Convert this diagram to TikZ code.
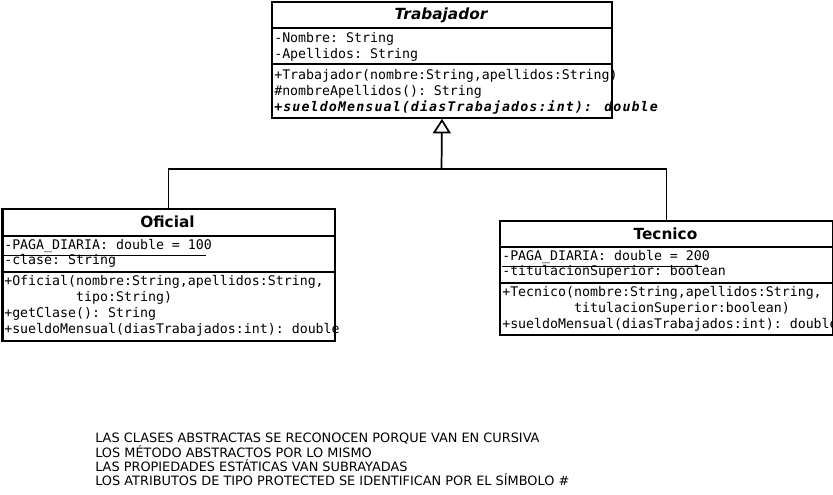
\documentclass[tikz,border=0pt]{standalone}
\usepackage{fontspec}
\setmainfont{DejaVu Sans}
\setmonofont{DejaVu Sans Mono}
\newfontfamily\monobi{DejaVu Sans Mono Bold Oblique}[LetterSpace=8.5]
\usetikzlibrary{arrows.meta}
\begin{document}
\begin{tikzpicture}[x=0.75pt,y=-0.75pt]

    \tikzset{
      classbox/.style={
        draw,
        line width=1.5pt,
        inner sep=0pt,
        anchor=north west,
      },
      sep/.style={line width=1.5pt},
      title/.style={font=\fontsize{11.5}{14}\selectfont\bfseries, anchor=base, inner sep=0pt},
      member/.style={font=\fontsize{9.95}{12}\selectfont\ttfamily, anchor=base west, inner sep=0pt},
      abstractmember/.style={member, font=\fontsize{9.95}{12}\selectfont\monobi},
      staticline/.style={line width=0.8pt},
      link/.style={line width=1.3pt},
      inherit/.style={line width=1.3pt, -{Triangle[open,length=11pt,width=13.5pt]}},
      note/.style={font=\fontsize{9.66}{11.5}\selectfont, anchor=base west, inner sep=0pt},
    }
    \useasboundingbox (0,0) rectangle (833,494);

    \node[classbox, minimum width=255pt, minimum height=87pt] (trabajador) at (271,0.7) {};
    \draw[sep] (trabajador.west |- 0,28.3) -- (trabajador.east |- 0,28.3);
    \draw[sep] (trabajador.west |- 0,64.3) -- (trabajador.east |- 0,64.3);
    \node[title] (trabajadortitle) at (441,19.5) {\itshape Trabajador};
    \node[member] (trnombre) at (274,42.3) {-Nombre: String};
    \node[member] (trapellidos) at (274,58.3) {-Apellidos: String};
    \node[member] (trconstructor) at (274,79.6) {+Trabajador(nombre:String,apellidos:String)};
    \node[member] (trnombreap) at (274,95.5) {\#nombreApellidos(): String};
    \node[abstractmember] (trsueldo) at (274,111.2) {+sueldoMensual(diasTrabajados:int): double};

    \node[classbox, minimum width=249pt, minimum height=99pt] (oficial) at (1.5,208.3) {};
    \draw[sep] (oficial.west |- 0,235.7) -- (oficial.east |- 0,235.7);
    \draw[sep] (oficial.west |- 0,271.7) -- (oficial.east |- 0,271.7);
    \node[title] (oficialtitle) at (167.5,227) {Oficial};
    \node[member] (ofpaga) at (4,249.3) {-PAGA\_DIARIA: double = 100};
    \draw[staticline] ([yshift=-4.6pt]ofpaga.base west) -- ([yshift=-4.6pt,xshift=-5pt]ofpaga.base east);
    \node[member] (ofclase) at (4,264.8) {-clase: String};
    \node[member] (ofconstructor) at (4,285.6) {+Oficial(nombre:String,apellidos:String,};
    \node[member] (oftipo) at (4,301.3) {\hphantom{+Oficial(}tipo:String)};
    \node[member] (ofgetclase) at (4,317.3) {+getClase(): String};
    \node[member] (ofsueldo) at (4,333.2) {+sueldoMensual(diasTrabajados:int): double};

    \node[classbox, minimum width=249.75pt, minimum height=85.7pt] (tecnico) at (499,220) {};
    \draw[sep] (tecnico.west |- 0,246.7) -- (tecnico.east |- 0,246.7);
    \draw[sep] (tecnico.west |- 0,283.3) -- (tecnico.east |- 0,283.3);
    \node[title] (tecnicotitle) at (665.5,239) {Tecnico};
    \node[member] (tepaga) at (502,260) {-PAGA\_DIARIA: double = 200};
    \draw[staticline] ([yshift=-4.8pt]tepaga.base west) -- ([yshift=-4.8pt,xshift=-6pt]tepaga.base east);
    \node[member] (tetitulacion) at (502,275.2) {-titulacionSuperior: boolean};
    \node[member] (teconstructor) at (502,296.7) {+Tecnico(nombre:String,apellidos:String,};
    \node[member] (tetitsup) at (502,312.5) {\hphantom{+Tecnico(}titulacionSuperior:boolean)};
    \node[member] (tesueldo) at (502,328.3) {+sueldoMensual(diasTrabajados:int): double};

    \coordinate (join) at (441.5,169.3);
    \draw[link] (oficial.north) |- (join) -| (tecnico.north);
    \draw[inherit] (join) -- (trabajador.south);

    \foreach \txt [count=\i from 0] in {
        LAS CLASES ABSTRACTAS SE RECONOCEN PORQUE VAN EN CURSIVA,
        LOS MÉTODO ABSTRACTOS POR LO MISMO,
        LAS PROPIEDADES ESTÁTICAS VAN SUBRAYADAS,
        LOS ATRIBUTOS DE TIPO PROTECTED SE IDENTIFICAN POR EL SÍMBOLO \#}
      \node[note] (note\i) at (95,442.7+14.35*\i) {\txt};

\end{tikzpicture}
\end{document}
